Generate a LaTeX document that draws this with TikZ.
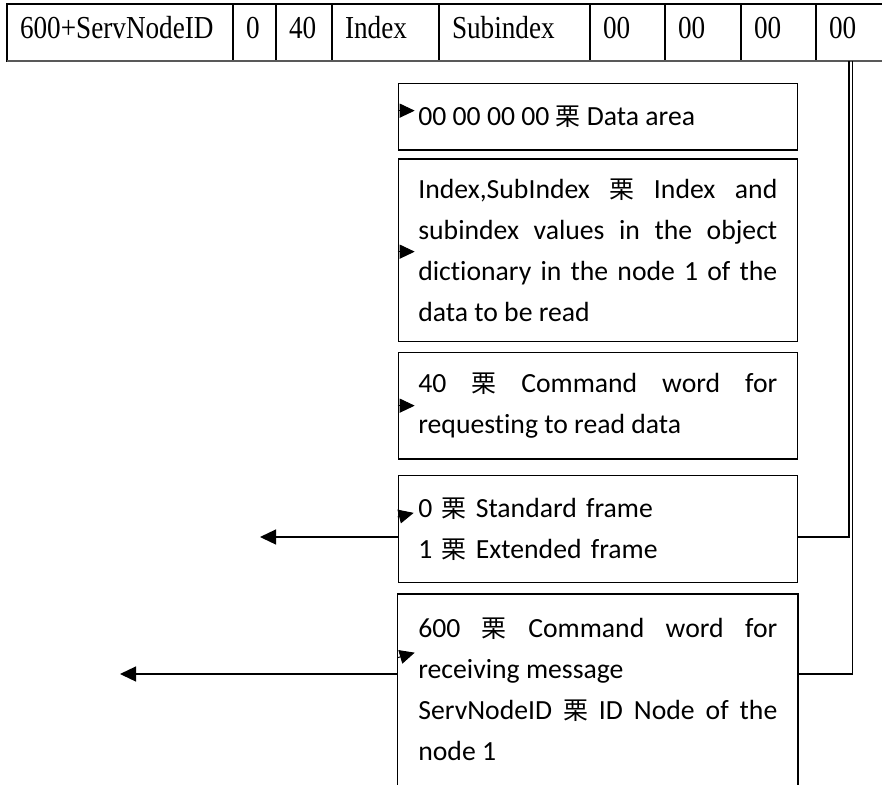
\documentclass[tikz,border=0pt]{standalone}
\usepackage{fontspec}
\setmainfont[Ligatures=CommonOff]{Carlito}
\newfontfamily\tabfont[FakeStretch=0.85]{Liberation Serif}
\newfontfamily\cjkfont[Scale=0.9]{Noto Sans CJK SC}
\usetikzlibrary{positioning,arrows.meta}
\newcommand{\zsep}{{\cjkfont 栗}}
\hbadness=10000

\begin{document}
\begin{tikzpicture}[x=1pt, y=-1pt, line width=1.3pt, node distance=0pt]
		\tikzstyle{cell}=[draw, anchor=west, outer sep=0pt, minimum height=57pt, inner xsep=13pt, inner ysep=0pt, text height=24pt, text depth=13pt, align=left, font=\tabfont\fontsize{32pt}{32pt}\selectfont]
		\tikzstyle{infobox}=[draw, anchor=north east, text width=359pt, inner xsep=20pt, inner ysep=0pt, align=justify, font=\fontsize{27.7pt}{41pt}\selectfont]
		\tikzstyle{link}=[line width=1.3pt]
		\tikzstyle{outarrow}=[-{Triangle[length=16pt, width=15pt]}]
		\tikzstyle{stub}=[line width=1pt, -{Triangle[length=15pt, width=14pt]}]

			\useasboundingbox (0,0) rectangle (882,784);

			% the frame
			\node[cell, text width=200pt] (cid) at (7,32.5) {600+ServNodeID};
			\node[cell, text width=17pt, right=of cid] (cfmt) {0};
			\node[cell, text width=30pt, right=of cfmt] (ccmd) {40};
			\node[cell, text width=81pt, right=of ccmd] (cidx) {Index};
			\node[cell, text width=125pt, right=of cidx] (csub) {Subindex};
			\node[cell, text width=49pt, right=of csub] (cd1) {00};
			\node[cell, text width=50pt, right=of cd1] (cd2) {00};
			\node[cell, text width=49pt, right=of cd2] (cd3) {00};
			\node[cell, draw=none, text width=40pt, right=of cd3] (cd4) {00};
			\coordinate (rimtop) at (882,4);
			\coordinate (rimbot) at (882,61);
			\draw (cd4.north west) -- (rimtop);
			\draw[gray!70!black, line width=2pt] (cid.south west) -- (rimbot);

			% explanations
			\node[infobox, minimum height=66.6pt] (data) at (798,82.7) {00 00 00 00 \zsep{} Data area};
			\node[infobox, minimum height=182.4pt] (idx) at (798,158.3) {Index,SubIndex \zsep{} Index and\linebreak subindex values in the object\linebreak dictionary in the node 1 of the\linebreak data to be read};
			\node[infobox, minimum height=106.6pt] (cmd) at (798,351.7) {40 \zsep{} Command word for\linebreak requesting to read data};
			\node[infobox, align=left, minimum height=107pt] (fmt) at (798,474.7) {0 \zsep{} Standard frame\\1 \zsep{} Extended frame};
			\node[infobox, draw=none, minimum height=190pt] (sid) at (798,594) {600 \zsep{} Command word for\linebreak receiving message\\ServNodeID \zsep{} ID Node of the\linebreak node 1};
			\draw (sid.south west) |- (sid.north east) -- (sid.south east);

			\draw[stub] ([yshift=6pt]data.west) -- ++(17,0);
			\draw[stub] ([yshift=-1.5pt]idx.west) -- ++(17,0);
			\draw[stub] (cmd.west) -- ++(17,0);
			\draw[stub] ([yshift=12pt]fmt.west) -- ++(16,-4);
			\draw[stub] ([yshift=32pt]sid.west) -- ++(17,-5);

			% lines out of the last byte
			\coordinate (frtap) at (849,61);
			\coordinate (idtap) at (852.5,61);
			\coordinate (frout) at (260,537);
			\coordinate (idout) at (120,674);
			\draw[link] (frtap) |- (fmt.east |- frout);
			\draw[link] (idtap) |- (sid.east |- idout);
			\draw[link, outarrow] (fmt.west |- frout) -- (frout);
			\draw[link, outarrow] (sid.west |- idout) -- (idout);
		\end{tikzpicture}
\end{document}
